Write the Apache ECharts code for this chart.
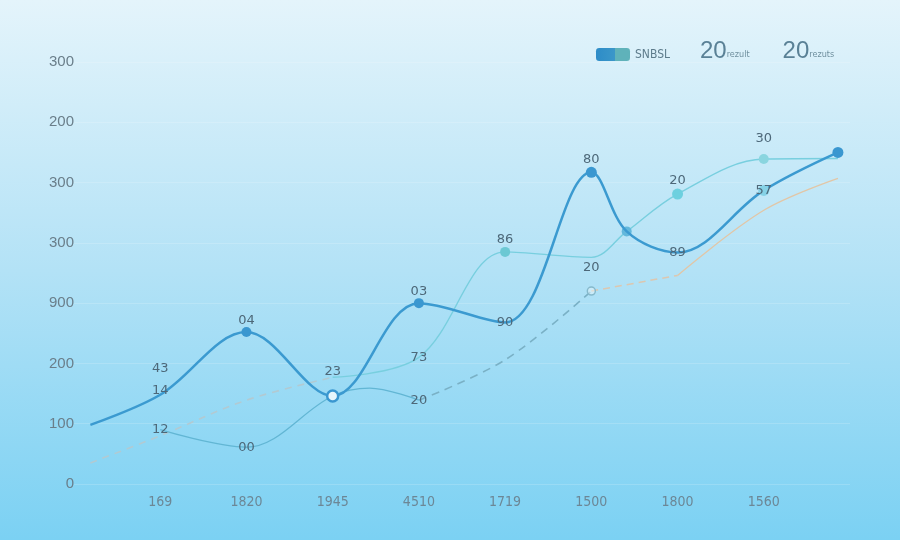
<!DOCTYPE html>
<html><head><meta charset="utf-8">
<script src="https://cdn.jsdelivr.net/npm/echarts@6/dist/echarts.min.js"></script>
<style>html,body{margin:0;padding:0;overflow:hidden}#c{width:900px;height:540px}</style>
</head><body><div id="c"></div>
<script>
// ---- data ----
const xLabels = ['169','1820','1945','4510','1719','1500','1800','1560'];
const yLabels = ['0','100','200','900','300','300','200','300'];

const mainX = [0.19, 1, 2, 3, 4, 5, 6, 6.41, 7, 8, 8.86];
const mainY = [98, 148, 252, 146, 300, 268, 517, 419, 384, 487, 550];
const mainText = ['', '43\n14', '04', '23', '03', '90', '80', '', '89', '57', ''];

const lowX = [1, 2, 3, 3.43, 4];
const lowY = [90, 61, 146, 159, 139];
const lowText = ['12', '00', '', '', '20'];

const midX = [4, 5, 6];
const midY = [139, 206, 320];
const midText = ['', '', '20'];

const peachX = [6, 7];
const peachY = [320, 346];

const tailX = [7, 8, 8.86];
const tailY = [346, 454, 507];

const baseX = [0.19, 1, 2, 3];
const baseY = [35, 80, 139, 177];

const upX = [3, 4, 5, 6, 6.41, 7, 8, 8.86];
const upY = [177, 210, 385, 376, 419, 481, 539, 540];
const upText = ['', '73', '86', '', '', '20', '30', ''];

const legendText = { SNBSL: ['SNBSL', ''], b: ['20', 'rezult'], c: ['20', 'rezuts'] };

// ---- build ----
const labelColor = '#4d6879';
function pts(xs, ys, texts, cfg) {
  return xs.map((x, i) => {
    const c = (cfg && cfg[i]) || {};
    const t = texts ? texts[i] : '';
    const lab = {
      show: !!t,
      formatter: t,
      position: c.pos || 'top',
      distance: c.dist != null ? c.dist : 0,
      color: labelColor,
      fontSize: 13,
      fontFamily: 'DejaVu Sans'
    };
    if (c.lh) lab.lineHeight = c.lh;
    return {
      value: [x, ys[i]],
      symbolSize: c.size || 0,
      symbol: c.symbol || 'circle',
      itemStyle: c.item || {},
      label: lab
    };
  });
}
const dot = (color, size, dist) => ({ size: size || 10, item: { color: color, borderWidth: 0 }, dist: dist || 0 });

const mainCfg = {
  1: { dist: -7, lh: 22 },
  2: dot('#3a97d0', 10, 0),
  3: { size: 11, item: { color: '#e6f6fc', borderColor: '#3a97d0', borderWidth: 2.5 }, dist: 11 },
  4: dot('#3a97d0', 10, 0),
  5: { pos: 'inside' },
  6: dot('#3a97d0', 11, 1),
  8: { pos: 'inside' },
  9: { size: 11, item: { color: '#86d2e6' }, pos: 'inside' },
  10: dot('#3a97d0', 11)
};
const lowCfg = { 0: { pos: 'inside' }, 1: { pos: 'inside' }, 4: { pos: 'inside' } };
const midCfg = { 2: { size: 8, item: { color: 'rgba(230,246,252,0.5)', borderColor: '#86b9cb', borderWidth: 1.5 }, dist: 12 } };
const upCfg = {
  1: { pos: 'inside' },
  2: dot('#6cc8d3', 10, 1),
  4: dot('#62b8dc', 10),
  5: dot('#6dd0df', 11, 1),
  6: dot('#8ad5df', 10, 9)
};

const common = { type: 'line', smooth: 0.35, showAllSymbol: true, showSymbol: true, clip: false, emphasis: { disabled: true } };

const option = {
  backgroundColor: new echarts.graphic.LinearGradient(0, 0, 0, 1, [
    { offset: 0, color: '#e4f4fb' },
    { offset: 0.5, color: '#b3e2f6' },
    { offset: 1, color: '#7bd1f3' }
  ]),
  animation: false,
  grid: { left: 74, right: 50, top: 62, bottom: 56 },
  legend: [
    {
      data: [{ name: 'SNBSL', icon: 'roundRect' }],
      left: 591, top: 43, itemWidth: 34, itemHeight: 13,
      itemStyle: { color: new echarts.graphic.LinearGradient(0, 0, 1, 0, [
        { offset: 0, color: '#2d8cc8' }, { offset: 0.55, color: '#3b97c9' }, { offset: 0.56, color: '#5fb2ba' }, { offset: 1, color: '#5fb2ba' }
      ]) },
      textStyle: { color: '#5d7b8b', fontSize: 12, fontFamily: 'DejaVu Sans Condensed, DejaVu Sans' },
      formatter: n => legendText[n][0]
    },
    {
      data: [{ name: 'b', icon: 'none' }, { name: 'c', icon: 'none' }],
      left: 690, top: 34, itemWidth: 0, itemGap: 28,
      formatter: n => '{big|' + legendText[n][0] + '}{small|' + legendText[n][1] + '}',
      textStyle: {
        rich: {
          big: { fontSize: 24, color: '#5a8196', fontFamily: 'Liberation Sans' },
          small: { fontSize: 9, color: '#70909f', fontFamily: 'DejaVu Sans Condensed, DejaVu Sans', padding: [8, 0, 0, 0] }
        }
      }
    }
  ],
  xAxis: {
    type: 'value', min: 0, max: 9, interval: 1,
    axisLine: { show: false }, axisTick: { show: false }, splitLine: { show: false },
    axisLabel: {
      formatter: v => xLabels[v - 1] || '',
      color: '#6c8796', fontSize: 14, margin: 11,
      fontFamily: 'DejaVu Sans Condensed, Liberation Sans Narrow, sans-serif'
    }
  },
  yAxis: {
    type: 'value', min: 0, max: 700, interval: 100,
    axisLine: { show: false }, axisTick: { show: false },
    splitLine: { lineStyle: { color: 'rgba(255,255,255,0.16)', width: 1 } },
    axisLabel: {
      formatter: v => yLabels[Math.round(v / 100)],
      color: '#6a7e8a', fontSize: 15, margin: 0,
      fontFamily: 'Liberation Sans'
    }
  },
  series: [
    Object.assign({}, common, { name: 'c', z: 2, data: pts(baseX, baseY, null, {}),
      lineStyle: { color: '#b2cad2', width: 1.6, type: [7, 6] } }),
    Object.assign({}, common, { name: 'c', z: 3, data: pts(upX, upY, upText, upCfg),
      lineStyle: { color: '#78cfdf', width: 1.4 } }),
    Object.assign({}, common, { name: 'b', z: 3, data: pts(lowX, lowY, lowText, lowCfg),
      lineStyle: { color: '#62b6d4', width: 1.3 } }),
    Object.assign({}, common, { name: 'b', z: 2, data: pts(midX, midY, midText, midCfg),
      lineStyle: { color: '#7ab1c6', width: 1.6, type: [8, 6] } }),
    Object.assign({}, common, { name: 'b', z: 2, data: pts(peachX, peachY, null, {}),
      lineStyle: { color: '#dcc7b0', width: 1.5, type: [7, 5] } }),
    Object.assign({}, common, { name: 'b', z: 2, data: pts(tailX, tailY, null, {}),
      lineStyle: { color: '#e2c6a6', width: 1.3 } }),
    Object.assign({}, common, { name: 'SNBSL', z: 5, data: pts(mainX, mainY, mainText, mainCfg),
      lineStyle: { color: '#3b9ad0', width: 2.5 } })
  ]
};

const chart = echarts.init(document.getElementById('c'), null, { renderer: 'canvas' });
chart.setOption(option);
</script>
</body></html>
